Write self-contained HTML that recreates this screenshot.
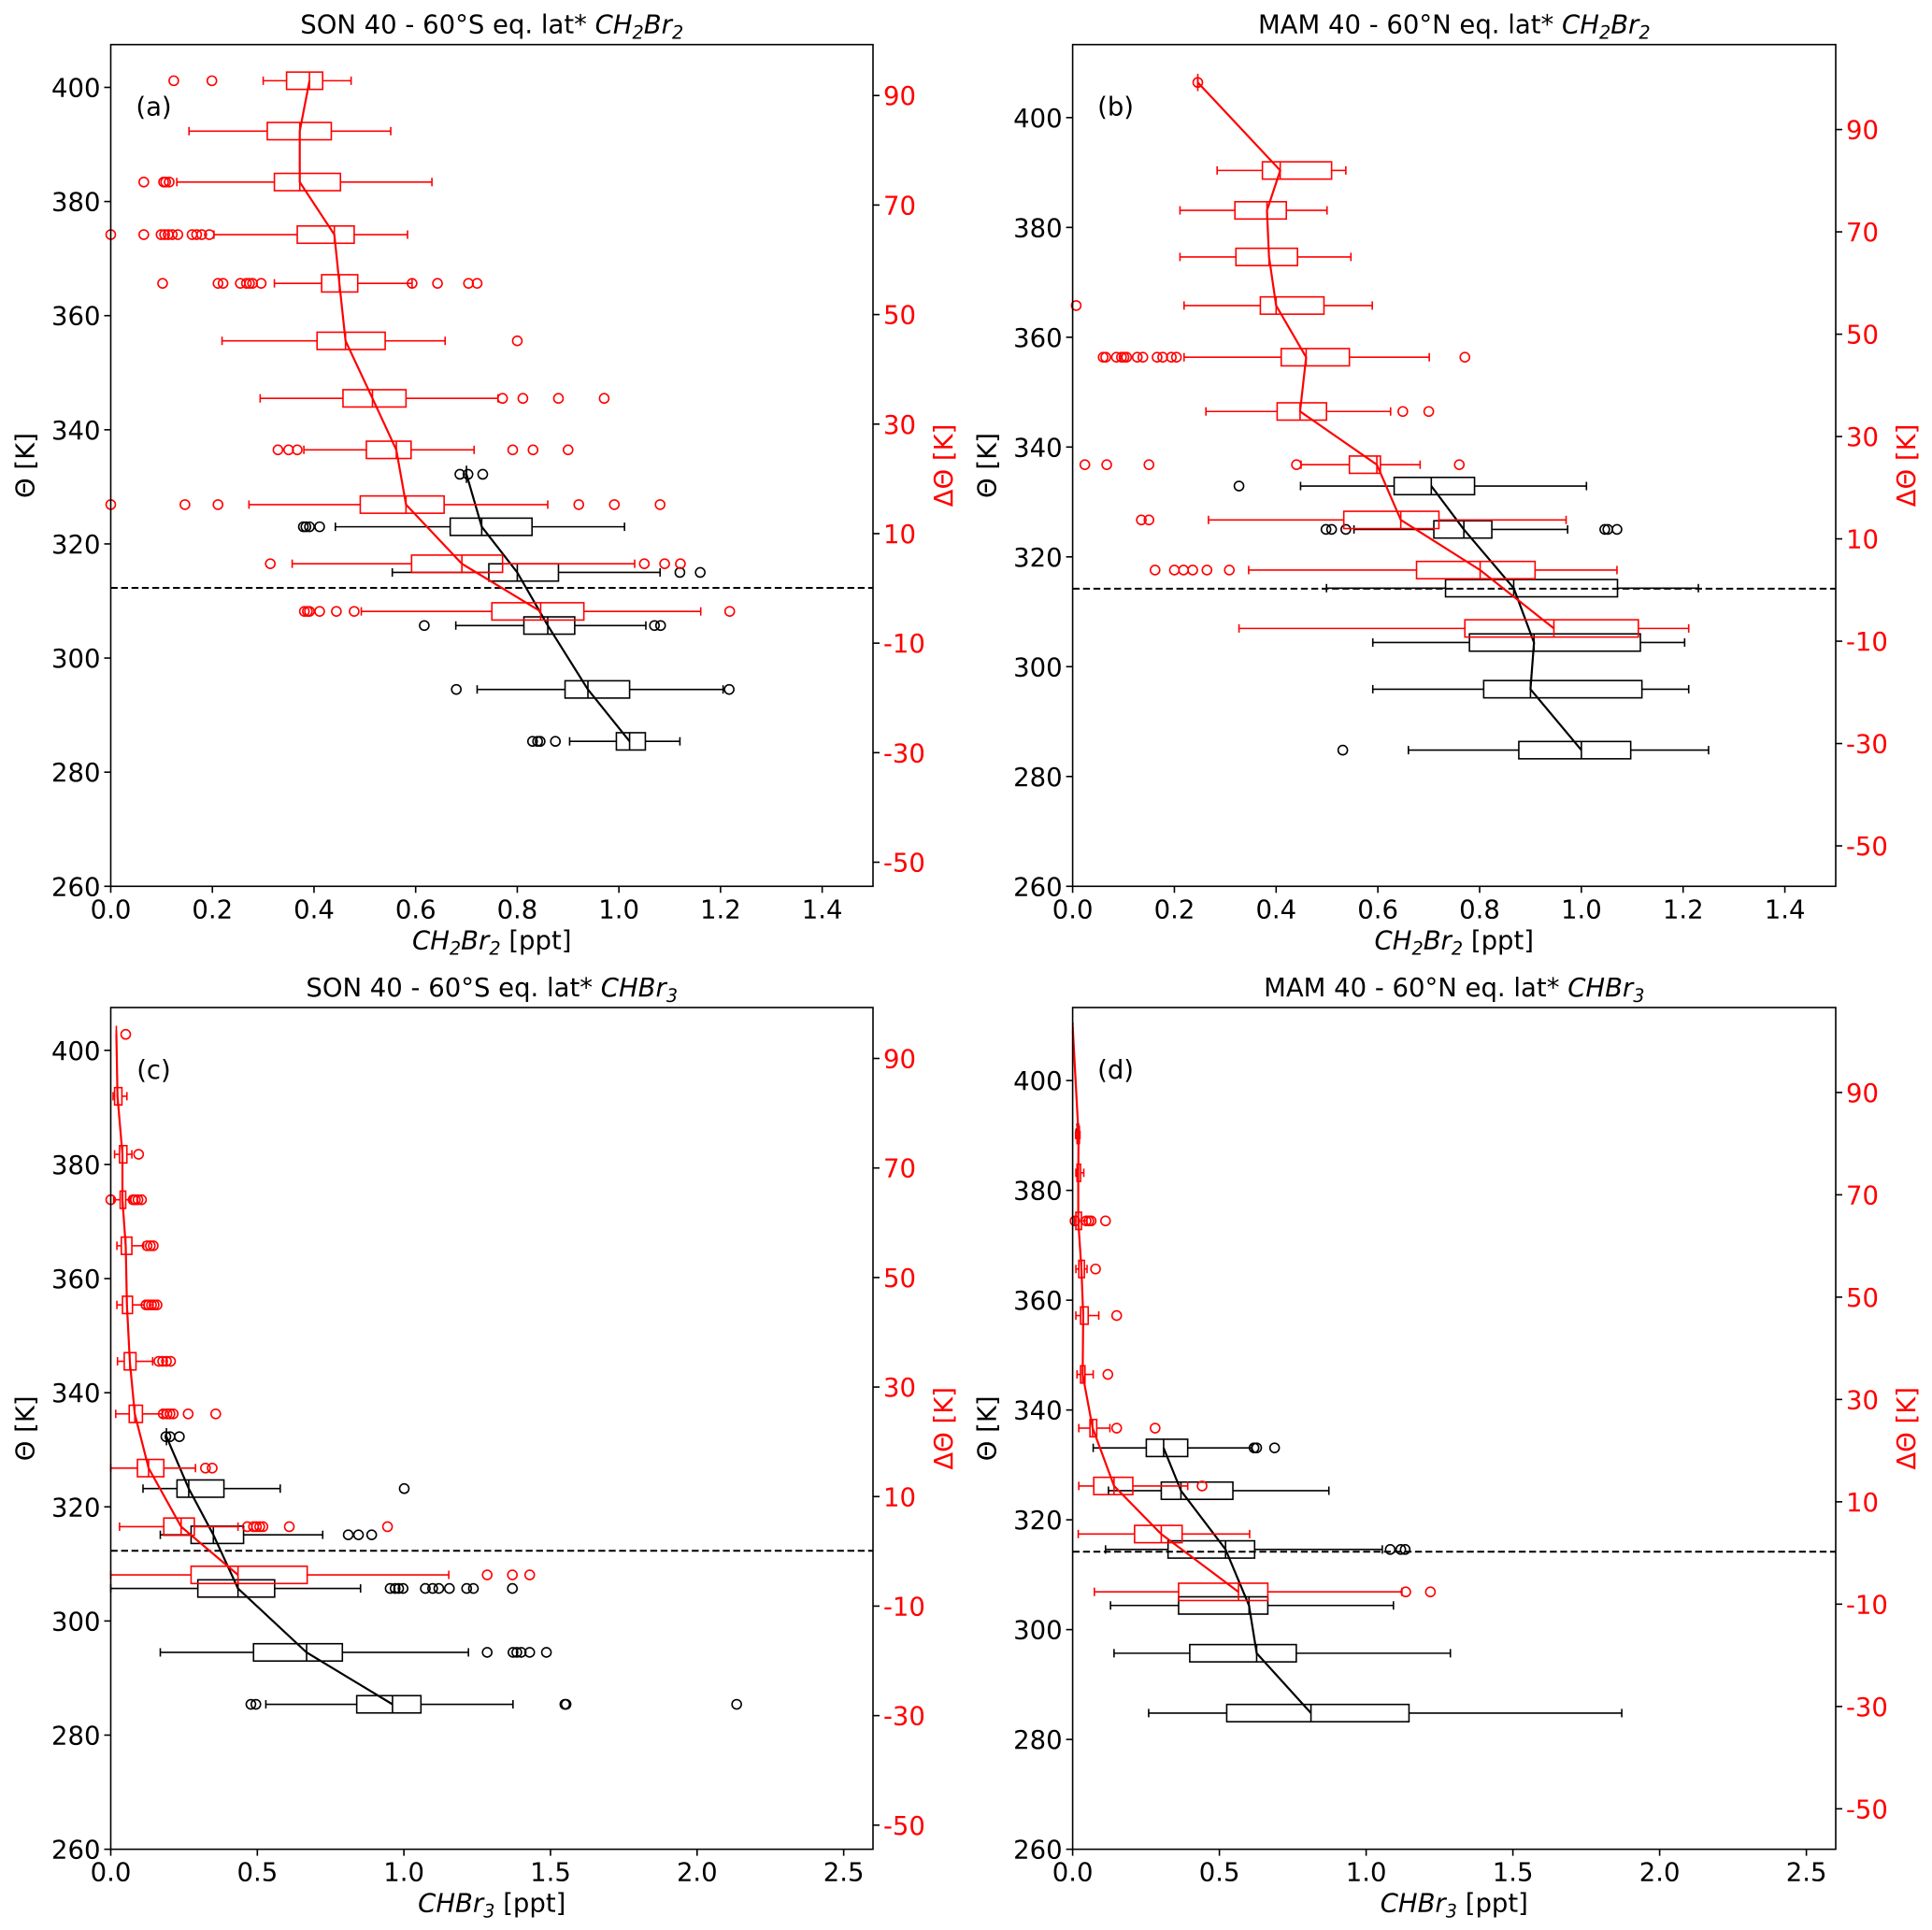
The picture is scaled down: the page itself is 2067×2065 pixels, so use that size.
<!DOCTYPE html>
<html><head><meta charset="utf-8">
<style>
html,body{margin:0;padding:0;background:#fff;}
svg{display:block;font-family:"DejaVu Sans","Liberation Sans",sans-serif;}
</style></head>
<body>
<svg id="fig" width="2067" height="2065" viewBox="0 0 2067 2065" xmlns="http://www.w3.org/2000/svg"></svg>
<script>
// ---------- DATA (stats = [whisker_lo, q1, median, q3, whisker_hi]) ----------
// Panel (a) SON CH2Br2
const aBlackPos = [285.4, 294.5, 305.7, 315.0, 323.0, 332.2];
const aBlackStats = [[0.903,0.995,1.021,1.052,1.12],[0.721,0.894,0.939,1.021,1.205],[0.679,0.813,0.86,0.913,1.053],[0.554,0.744,0.80,0.881,1.081],[0.442,0.668,0.73,0.829,1.011],[0.70,0.70,0.70,0.70,0.70]];
const aBlackFliers = [[0.83,0.84,0.845,0.875],[0.68,1.217],[0.617,1.07,1.082],[1.12,1.16],[0.379,0.384,0.391,0.411],[0.687,0.703,0.732]];
const aRedPos = [92.7, 83.5, 74.2, 64.6, 55.7, 45.2, 34.7, 25.3, 15.3, 4.5, -4.2];
const aRedStats = [[0.30,0.346,0.391,0.417,0.473],[0.154,0.308,0.372,0.434,0.551],[0.130,0.322,0.372,0.452,0.632],[0.203,0.367,0.44,0.479,0.584],[0.322,0.415,0.45,0.486,0.593],[0.219,0.406,0.462,0.54,0.658],[0.294,0.457,0.515,0.581,0.762],[0.38,0.503,0.562,0.591,0.715],[0.272,0.491,0.581,0.656,0.86],[0.357,0.592,0.691,0.771,1.031],[0.493,0.75,0.846,0.931,1.161]];
const aRedFliers = [[0.124,0.199],[],[0.065,0.104,0.108,0.115],[0,0.065,0.099,0.106,0.113,0.121,0.132,0.16,0.169,0.179,0.194],[0.102,0.211,0.221,0.255,0.267,0.273,0.279,0.296,0.593,0.643,0.704,0.721],[0.80],[0.771,0.811,0.881,0.971],[0.329,0.35,0.367,0.791,0.831,0.90],[0,0.146,0.211,0.921,0.991,1.081],[0.314,1.05,1.09,1.121],[0.381,0.387,0.391,0.411,0.444,0.479,1.218]];
// Panel (b) MAM CH2Br2
const bBlackPos = [284.8, 295.9, 304.4, 314.3, 325.0, 332.9];
const bBlackStats = [[0.66,0.877,1.0,1.097,1.25],[0.59,0.808,0.90,1.119,1.211],[0.59,0.78,0.907,1.116,1.203],[0.499,0.733,0.867,1.071,1.23],[0.553,0.71,0.769,0.824,0.973],[0.448,0.632,0.705,0.79,1.01]];
const bBlackFliers = [[0.531],[],[],[],[0.498,0.509,0.537,1.046,1.052,1.07],[0.327]];
const bRedPos = [99.2, 82.0, 74.2, 65.1, 55.6, 45.5, 34.9, 24.5, 13.7, 3.9, -7.5];
const bRedStats = [[0.246,0.246,0.246,0.246,0.246],[0.284,0.373,0.408,0.509,0.537],[0.211,0.319,0.382,0.42,0.50],[0.211,0.321,0.386,0.442,0.547],[0.219,0.369,0.40,0.494,0.589],[0.219,0.41,0.459,0.544,0.701],[0.262,0.402,0.447,0.499,0.625],[0.449,0.544,0.598,0.605,0.683],[0.267,0.533,0.645,0.72,0.97],[0.346,0.676,0.801,0.909,1.07],[0.327,0.771,0.946,1.112,1.211]];
const bRedFliers = [[0.246],[],[],[],[0.007],[0.06,0.065,0.086,0.096,0.101,0.106,0.127,0.138,0.166,0.177,0.194,0.204,0.771],[0.649,0.70],[0.024,0.067,0.15,0.44,0.76],[0.135,0.15],[0.162,0.20,0.218,0.236,0.264,0.308],[]];
// Panel (c) SON CHBr3
const cBlackPos = [285.4, 294.5, 305.7, 315.1, 323.2, 332.3];
const cBlackStats = [[0.529,0.839,0.961,1.058,1.372],[0.169,0.487,0.668,0.79,1.22],[0,0.297,0.434,0.559,0.852],[0.169,0.274,0.35,0.453,0.723],[0.11,0.226,0.266,0.386,0.578],[0.19,0.19,0.19,0.19,0.19]];
const cBlackFliers = [[0.478,0.495,1.549,1.553,2.135],[1.284,1.372,1.385,1.40,1.429,1.486],[0.953,0.97,0.982,0.997,1.073,1.098,1.119,1.155,1.214,1.237,1.37],[0.81,0.845,0.89],[1.001],[0.188,0.202,0.234]];
const cRedPos = [94.4, 83.1, 72.5, 64.2, 55.8, 45.0, 34.7, 25.1, 15.2, 4.5, -4.3];
const cRedStats = [[0.019,0.019,0.019,0.019,0.019],[0.008,0.013,0.023,0.038,0.055],[0.013,0.03,0.04,0.055,0.072],[0.01,0.032,0.04,0.051,0.065],[0.021,0.036,0.051,0.072,0.112],[0.021,0.04,0.055,0.074,0.114],[0.023,0.046,0.065,0.086,0.143],[0.017,0.063,0.082,0.108,0.175],[0,0.091,0.129,0.181,0.289],[0.03,0.181,0.24,0.285,0.434],[0,0.274,0.434,0.67,1.153]];
const cRedFliers = [[0.051],[],[0.095],[0,0.076,0.084,0.093,0.105],[0.124,0.135,0.145],[0.12,0.129,0.139,0.148,0.158],[0.164,0.177,0.19,0.204],[0.179,0.192,0.202,0.213,0.264,0.358],[0.323,0.346],[0.466,0.487,0.497,0.508,0.519,0.609,0.944],[1.284,1.37,1.429]];
// Panel (d) MAM CHBr3
const dBlackPos = [284.8, 295.7, 304.4, 314.6, 325.3, 333.1];
const dBlackStats = [[0.259,0.525,0.812,1.146,1.871],[0.141,0.399,0.627,0.762,1.287],[0.129,0.361,0.601,0.665,1.093],[0.112,0.325,0.521,0.62,1.055],[0.122,0.302,0.369,0.546,0.873],[0.07,0.251,0.31,0.392,0.61]];
const dBlackFliers = [[],[],[],[1.082,1.118,1.133],[],[0.618,0.627,0.688]];
const dBlackExtraPos = [390.5];
const dBlackExtraStats = [[0.012,0.015,0.018,0.02,0.022]];
const dBlackExtraFliers = [[]];
const dRedPos = [102.0, 81.7, 74.3, 64.9, 55.5, 46.4, 34.9, 24.4, 13.1, 3.7, -7.6];
const dRedStats = [[0.001,0.001,0.001,0.001,0.001],[0.01,0.015,0.02,0.023,0.025],[0.011,0.015,0.019,0.027,0.038],[0.006,0.011,0.019,0.03,0.049],[0.011,0.021,0.03,0.04,0.049],[0.011,0.027,0.036,0.053,0.089],[0.015,0.027,0.034,0.042,0.07],[0.021,0.059,0.068,0.082,0.127],[0.021,0.072,0.141,0.205,0.392],[0.019,0.211,0.302,0.373,0.603],[0.074,0.361,0.565,0.665,1.122]];
const dRedFliers = [[],[],[],[0.008,0.046,0.055,0.063,0.112],[0.078],[0.15],[0.12],[0.15,0.281],[0.441],[],[1.135,1.219]];

const xTicksCH2 = [0.0,0.2,0.4,0.6,0.8,1.0,1.2,1.4];
const xTicksCHBr = [0.0,0.5,1.0,1.5,2.0,2.5];
const yTicksLeft = [260,280,300,320,340,360,380,400];
const yTicksRight = [-50,-30,-10,10,30,50,70,90];

// ---------- LAYOUT ----------
const NS = "http://www.w3.org/2000/svg";
const fig = document.getElementById('fig');
function mk(tag, attrs, parent){
  const e = document.createElementNS(NS, tag);
  for (const k in attrs) e.setAttribute(k, attrs[k]);
  (parent||fig).appendChild(e);
  return e;
}
const panels = [
  {id:'a', x0:118.5, x1:934, y0:47.7, y1:948.3, xmax:1.5, tmin:260, tmax:407.5, dmin:-54.4, dmax:99.3, dash:312.3,
   xt:xTicksCH2, dec:1, title:'SON 40 - 60°S eq. lat* ', sp:'CH2Br2', bp:aBlackPos, bs:aBlackStats, bf:aBlackFliers, rp:aRedPos, rs:aRedStats, rf:aRedFliers},
  {id:'b', x0:1147.6, x1:1964, y0:47.7, y1:948.3, xmax:1.5, tmin:260, tmax:413.3, dmin:-57.9, dmax:106.6, dash:314.2,
   xt:xTicksCH2, dec:1, title:'MAM 40 - 60°N eq. lat* ', sp:'CH2Br2', bp:bBlackPos, bs:bBlackStats, bf:bBlackFliers, rp:bRedPos, rs:bRedStats, rf:bRedFliers},
  {id:'c', x0:118.5, x1:934, y0:1078, y1:1978.6, xmax:2.6, tmin:260, tmax:407.5, dmin:-54.4, dmax:99.3, dash:312.3,
   xt:xTicksCHBr, dec:1, title:'SON 40 - 60°S eq. lat* ', sp:'CHBr3', bp:cBlackPos, bs:cBlackStats, bf:cBlackFliers, rp:cRedPos, rs:cRedStats, rf:cRedFliers},
  {id:'d', x0:1147.6, x1:1964, y0:1078, y1:1978.6, xmax:2.6, tmin:260, tmax:413.3, dmin:-57.9, dmax:106.6, dash:314.2,
   xt:xTicksCHBr, dec:1, title:'MAM 40 - 60°N eq. lat* ', sp:'CHBr3', bp:dBlackPos, bs:dBlackStats, bf:dBlackFliers, rp:dRedPos, rs:dRedStats, rf:dRedFliers,
   ep:dBlackExtraPos, es:dBlackExtraStats, ef:dBlackExtraFliers}
];
const FS = 27.5;
function speciesText(t, sp){
  const it1 = mk('tspan', {'font-style':'italic'}, t);
  if (sp==='CH2Br2'){
    it1.textContent='CH';
    const s1=mk('tspan',{'font-style':'italic','font-size':FS*0.7,'dy':6},t); s1.textContent='2';
    const s2=mk('tspan',{'font-style':'italic','dy':-6},t); s2.textContent='Br';
    const s3=mk('tspan',{'font-style':'italic','font-size':FS*0.7,'dy':6},t); s3.textContent='2';
    return mk('tspan',{'dy':-6},t);
  } else {
    it1.textContent='CHBr';
    const s1=mk('tspan',{'font-style':'italic','font-size':FS*0.7,'dy':6},t); s1.textContent='3';
    return mk('tspan',{'dy':-6},t);
  }
}
const BH = 18.5, CAP = 9, FR = 5;

panels.forEach(p=>{
  const g = mk('g', {});
  
  
  const X = v => p.x0 + v/p.xmax*(p.x1-p.x0);
  const YL = v => p.y1 - (v-p.tmin)/(p.tmax-p.tmin)*(p.y1-p.y0);
  const YR = v => p.y1 - (v-p.dmin)/(p.dmax-p.dmin)*(p.y1-p.y0);
  const cx = (p.x0+p.x1)/2, cy=(p.y0+p.y1)/2;

  const t = mk('text', {x:cx, y:p.y0-12, 'text-anchor':'middle', 'font-size':FS, fill:'#000'}, g);
  
  
  const t0 = mk('tspan', {}, t); t0.textContent = p.title;
  speciesText(t, p.sp);

  const dl = mk('line', {x1:p.x0, x2:p.x1, y1:YL(p.dash), y2:YL(p.dash), stroke:'#000', 'stroke-width':2, 'stroke-dasharray':'7.4,3.7'}, g);
  
  

  function drawSeries(pos, stats, fliers, Y, color, name, withLine){
    const sg = mk('g', {}, g);
    
    
    pos.forEach((py,i)=>{
      const s = stats[i], y = Y(py);
      const bg = mk('g', {stroke:color, 'stroke-width':1.6, fill:'none'}, sg);
      
      
      mk('line', {x1:X(s[0]), x2:X(s[1]), y1:y, y2:y}, bg);
      mk('line', {x1:X(s[3]), x2:X(s[4]), y1:y, y2:y}, bg);
      mk('line', {x1:X(s[0]), x2:X(s[0]), y1:y-CAP/2, y2:y+CAP/2}, bg);
      mk('line', {x1:X(s[4]), x2:X(s[4]), y1:y-CAP/2, y2:y+CAP/2}, bg);
      mk('rect', {x:X(s[1]), y:y-BH/2, width:Math.max(0,X(s[3])-X(s[1])), height:BH}, bg);
      mk('line', {x1:X(s[2]), x2:X(s[2]), y1:y-BH/2, y2:y+BH/2}, bg);
      fliers[i].forEach(f=>{
        const c = mk('circle', {cx:X(f), cy:y, r:FR}, bg);
        
        
      });
    });
    if (withLine){
      const pts = pos.map((py,i)=> X(stats[i][2]).toFixed(1)+','+Y(py).toFixed(1)).join(' ');
      const pl = mk('polyline', {points:pts, fill:'none', stroke:color, 'stroke-width':2.2}, sg);
      
      
    }
  }
  drawSeries(p.bp, p.bs, p.bf, YL, '#000', 'theta-series', true);
  if (p.ep) drawSeries(p.ep, p.es, p.ef, YL, '#000', 'theta-extra-series', false);
  drawSeries(p.rp, p.rs, p.rf, YR, '#ff0000', 'delta-theta-series', true);

  const fr = mk('rect', {x:p.x0, y:p.y0, width:p.x1-p.x0, height:p.y1-p.y0, fill:'none', stroke:'#000', 'stroke-width':1.6}, g);
  
  

  p.xt.forEach(v=>{
    const x = X(v);
    mk('line', {x1:x, x2:x, y1:p.y1, y2:p.y1+7, stroke:'#000', 'stroke-width':1.6}, g);
    const tl = mk('text', {x:x, y:p.y1+34, 'text-anchor':'middle', 'font-size':FS}, g);
    
    
    tl.textContent = v.toFixed(p.dec);
  });
  yTicksLeft.forEach(v=>{
    const y = YL(v);
    mk('line', {x1:p.x0-7, x2:p.x0, y1:y, y2:y, stroke:'#000', 'stroke-width':1.6}, g);
    const tl = mk('text', {x:p.x0-11, y:y+10, 'text-anchor':'end', 'font-size':FS}, g);
    
    
    tl.textContent = v;
  });
  yTicksRight.forEach(v=>{
    const y = YR(v);
    mk('line', {x1:p.x1, x2:p.x1+7, y1:y, y2:y, stroke:'#000', 'stroke-width':1.6}, g);
    const tl = mk('text', {x:p.x1+11, y:y+10, 'text-anchor':'start', 'font-size':FS, fill:'#ff0000'}, g);
    
    
    tl.textContent = v;
  });
  const xl = mk('text', {x:cx, y:p.y1+67, 'text-anchor':'middle', 'font-size':FS}, g);
  
  
  const last = speciesText(xl, p.sp); last.textContent = ' [ppt]';
  const ylx = p.x0 - 82;
  const yl = mk('text', {x:ylx, y:cy, 'text-anchor':'middle', 'font-size':FS, transform:`rotate(-90 ${ylx} ${cy})`}, g);
  
  
  yl.textContent = 'Θ [K]';
  const yrx = p.x1 + 85;
  const yr = mk('text', {x:yrx, y:cy, 'text-anchor':'middle', 'font-size':FS, fill:'#ff0000', transform:`rotate(-90 ${yrx} ${cy})`}, g);
  
  
  yr.textContent = 'ΔΘ [K]';
  const pl = mk('text', {x:p.x0+46, y:p.y0+76, 'text-anchor':'middle', 'font-size':FS}, g);
  
  
  pl.textContent = '(' + p.id + ')';
});
</script>
</body></html>
